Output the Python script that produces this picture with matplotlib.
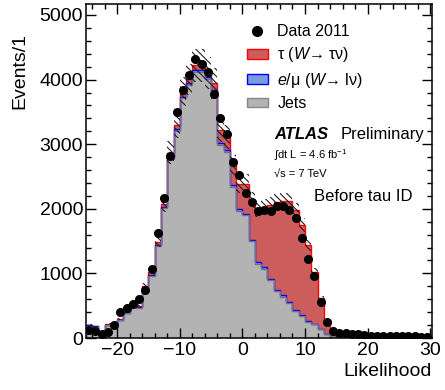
import numpy as np
import matplotlib
matplotlib.use('Agg')
import matplotlib.pyplot as plt
from matplotlib.patches import Patch
from matplotlib.lines import Line2D

plt.rcParams['font.family'] = ['Liberation Sans', 'DejaVu Sans']
plt.rcParams['mathtext.fontset'] = 'custom'
plt.rcParams['mathtext.rm'] = 'Liberation Sans'
plt.rcParams['mathtext.it'] = 'Liberation Sans:italic'
plt.rcParams['hatch.linewidth'] = 0.8

# Binning: likelihood score, 1 unit per bin from -25 to 30
edges = np.arange(-25, 31)

# Stacked backgrounds / signal (events per bin)
jets = [192, 177, 90, 204, 204, 275, 384, 497, 472, 760,
        963, 1425, 2005, 2778, 3205, 3708, 3913, 4117, 4117, 4016,
        3805, 2983, 2880, 2338, 1972, 1897, 1496, 1150, 1074, 894,
        725, 639, 538, 421, 335, 249, 210, 135, 59, 26,
        17, 16, 13, 12, 11, 10, 10, 9, 9, 8,
        8, 7, 7, 6, 5]
emu = [3, 3, 2, 4, 4, 5, 6, 8, 8, 10,
       12, 15, 18, 22, 25, 28, 30, 32, 32, 30,
       34, 28, 28, 30, 32, 30, 28, 28, 26, 25,
       24, 22, 20, 18, 16, 14, 12, 10, 8, 5,
       3, 2, 2, 1, 1, 1, 1, 1, 1, 1,
       1, 1, 1, 1, 1]
tau = [6, 6, 6, 9, 9, 10, 15, 25, 20, 30,
       52, 51, 51, 70, 60, 80, 60, 70, 65, 60,
       105, 209, 208, 308, 387, 464, 609, 811, 930, 1137,
       1358, 1457, 1560, 1539, 1395, 1173, 801, 475, 207, 62,
       30, 27, 25, 20, 19, 18, 16, 16, 14, 14,
       13, 13, 12, 11, 9]

# Data 2011
data = [124, 113, 62, 90, 195, 395, 462, 521, 605, 742,
        1072, 1625, 2160, 2818, 3495, 3845, 4075, 4312, 4245, 4120,
        3770, 3412, 3165, 2730, 2530, 2250, 2103, 1960, 1977, 1970,
        2040, 2040, 1978, 1865, 1548, 1225, 960, 550, 255, 105,
        75, 70, 65, 58, 50, 35, 32, 30, 28, 28,
        26, 25, 24, 22, 12]

syst = 0.06  # relative uncertainty on the total prediction (hatched band)

jets = np.array(jets, dtype=float)
emu = np.array(emu, dtype=float)
tau = np.array(tau, dtype=float)
centers = 0.5 * (edges[:-1] + edges[1:])

c_tau_fill, c_tau_line = '#cd5c5c', '#ff0000'
c_emu_fill, c_emu_line = '#7b9be0', '#0000ff'
c_jet_fill, c_jet_line = '#b3b3b3', '#70708a'

fig = plt.figure(figsize=(4.45, 3.9), dpi=100)
ax = fig.add_axes([0.193, 0.1333, 0.778, 0.8564])

lvl1 = jets
lvl2 = jets + emu
lvl3 = jets + emu + tau

ax.stairs(lvl1, edges, baseline=0, fill=True, color=c_jet_fill, zorder=1)
ax.stairs(lvl2, edges, baseline=lvl1, fill=True, color=c_emu_fill, zorder=1)
ax.stairs(lvl3, edges, baseline=lvl2, fill=True, color=c_tau_fill, zorder=1)
ax.stairs(lvl3, edges, color=c_tau_line, lw=1.0, zorder=2)
ax.stairs(lvl2, edges, color=c_emu_line, lw=1.0, zorder=2)
ax.stairs(lvl1, edges, color=c_jet_line, lw=1.0, zorder=2)

ax.stairs(lvl3 * (1 + syst), edges, baseline=lvl3 * (1 - syst), fill=True,
          facecolor='none', edgecolor='#202020', hatch='\\\\\\\\\\', lw=0, zorder=3)

ax.plot(centers, data, 'o', color='black', ms=5.5, zorder=5)

ax.set_xlim(-25, 30.3)
ax.set_ylim(0, 5170)
ax.set_xticks([-20, -10, 0, 10, 20, 30])
ax.set_xticks(np.arange(-24, 31, 2), minor=True)
ax.set_yticks([0, 1000, 2000, 3000, 4000, 5000])
ax.set_yticks(np.arange(0, 5170, 200), minor=True)
ax.tick_params(which='both', direction='in', top=True, right=True, width=1)
ax.tick_params(which='major', length=7, labelsize=14)
ax.tick_params(axis='y', which='major', pad=2)
ax.tick_params(axis='x', which='major', pad=3)
ax.tick_params(which='minor', length=3.8)
for s in ax.spines.values():
    s.set_linewidth(1.1)

ax.text(-0.19, 0.913, 'Events/1', rotation=90, ha='center', va='top',
        fontsize=14, transform=ax.transAxes)
ax.text(1.0, -0.10, 'Likelihood', ha='right', va='center', fontsize=14,
        transform=ax.transAxes)

handles = [
    Line2D([], [], marker='o', color='black', ls='none', ms=7),
    Patch(facecolor=c_tau_fill, edgecolor=c_tau_line, lw=1),
    Patch(facecolor=c_emu_fill, edgecolor=c_emu_line, lw=1),
    Patch(facecolor=c_jet_fill, edgecolor='#888888', lw=1),
]
labels = ['Data 2011', 'τ ($W$→ τν)', '$e$/μ ($W$→ lν)', 'Jets']
ax.legend(handles, labels, loc='upper left', bbox_to_anchor=(0.465, 0.94),
          frameon=False, fontsize=11.5, handlelength=1.3, handleheight=0.55,
          handletextpad=0.6, labelspacing=0.4, borderpad=0, borderaxespad=0)

ax.text(0.543, 0.596, 'ATLAS', fontsize=12, fontweight='bold', style='italic',
        transform=ax.transAxes)
ax.text(0.737, 0.596, 'Preliminary', fontsize=12, transform=ax.transAxes)
ax.text(0.543, 0.536, r'$\int$dt L = 4.6 fb$^{-1}$', fontsize=8,
        transform=ax.transAxes)
ax.text(0.543, 0.482, '√s = 7 TeV', fontsize=8, transform=ax.transAxes)
ax.text(0.659, 0.41, 'Before tau ID', fontsize=12, transform=ax.transAxes)

fig.savefig('out.png', dpi=100)
